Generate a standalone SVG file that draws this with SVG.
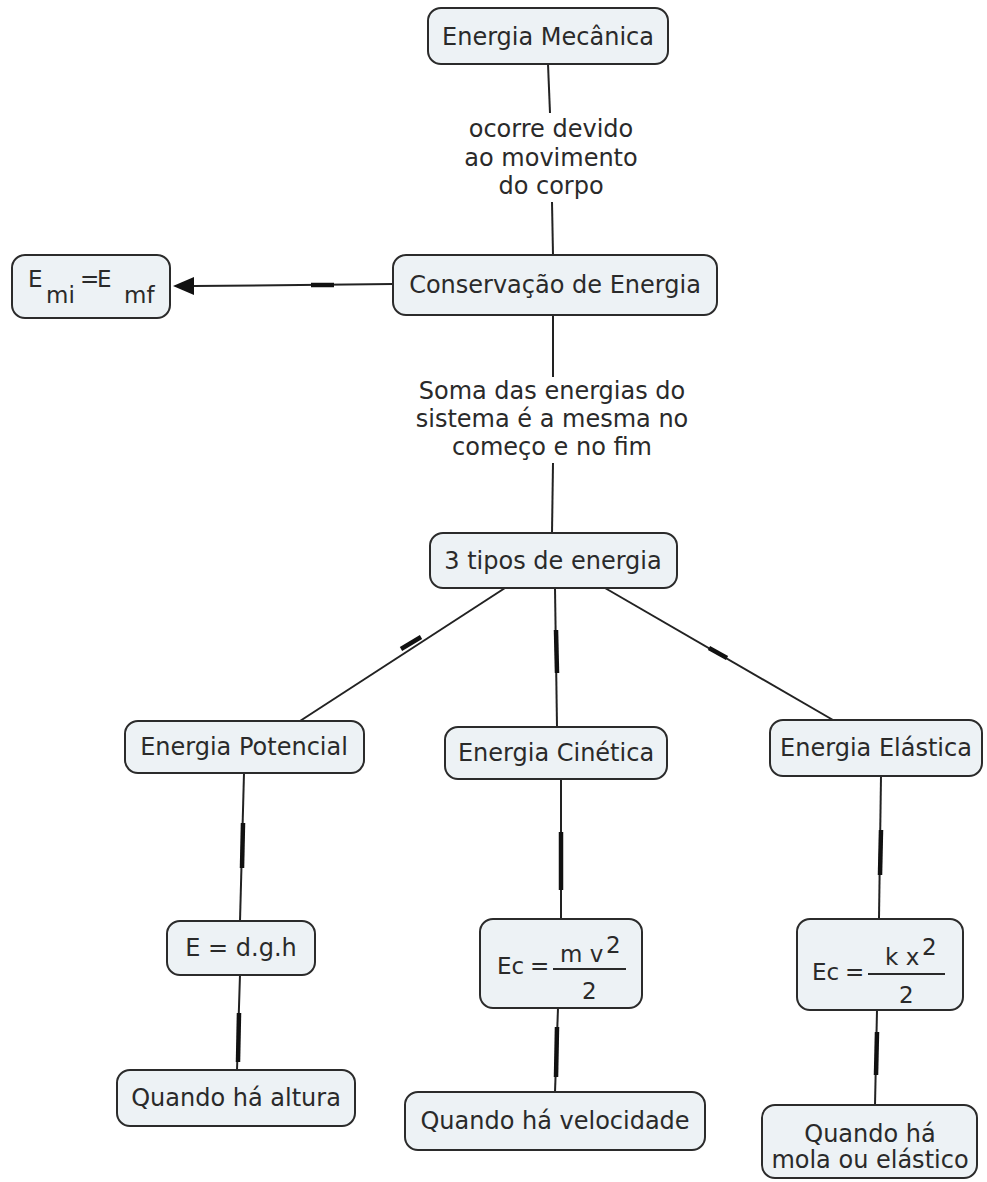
<svg xmlns="http://www.w3.org/2000/svg" width="987" height="1182" viewBox="0 0 987 1182">
  <style>
    .node rect { fill: #edf2f5; stroke: #2b2b2b; stroke-width: 2; }
    text { font-family: "DejaVu Sans", Verdana, sans-serif; font-size: 24px; fill: #2a2a2a; }
    .f { font-size: 23px; }
    .c { text-anchor: middle; }
    .link { stroke: #222; stroke-width: 2; fill: none; }
    .mark { stroke: #111; stroke-width: 4.5; fill: none; }
    .bar { stroke: #2a2a2a; stroke-width: 2; }
  </style>
  <rect width="987" height="1182" fill="#ffffff"/>

  <g id="connectors">
    <!-- Energia Mecânica -> Conservação -->
    <line class="link" x1="548" y1="64" x2="550" y2="113"/>
    <line class="link" x1="552" y1="202" x2="553" y2="255"/>
    <!-- Conservação -> 3 tipos -->
    <line class="link" x1="553" y1="315" x2="553" y2="377"/>
    <line class="link" x1="553" y1="463" x2="552" y2="533"/>
    <!-- Conservação -> Emi = Emf -->
    <line class="link" x1="393" y1="284" x2="194" y2="286"/>
    <path d="M173,286 L194,277 L194,295 Z" fill="#111"/>
    <line class="mark" x1="311" y1="285" x2="334" y2="285"/>
    <!-- 3 tipos -> the three energies -->
    <line class="link" x1="505" y1="588" x2="300" y2="721"/>
    <line class="mark" x1="401" y1="649" x2="421" y2="637"/>
    <line class="link" x1="555" y1="588" x2="557" y2="727"/>
    <line class="mark" x1="556" y1="630" x2="557" y2="673"/>
    <line class="link" x1="605" y1="588" x2="833" y2="720"/>
    <line class="mark" x1="709" y1="648" x2="727" y2="658"/>
    <!-- Potencial column -->
    <line class="link" x1="244" y1="773" x2="240" y2="921"/>
    <line class="mark" x1="243" y1="823" x2="242" y2="868"/>
    <line class="link" x1="240" y1="975" x2="237" y2="1070"/>
    <line class="mark" x1="239" y1="1013" x2="238" y2="1062"/>
    <!-- Cinética column -->
    <line class="link" x1="561" y1="779" x2="561" y2="919"/>
    <line class="mark" x1="561" y1="832" x2="561" y2="890"/>
    <line class="link" x1="558" y1="1008" x2="555" y2="1092"/>
    <line class="mark" x1="557" y1="1027" x2="556" y2="1077"/>
    <!-- Elástica column -->
    <line class="link" x1="881" y1="776" x2="879" y2="918"/>
    <line class="mark" x1="881" y1="830" x2="880" y2="875"/>
    <line class="link" x1="877" y1="1010" x2="875" y2="1105"/>
    <line class="mark" x1="877" y1="1032" x2="876" y2="1075"/>

    <!-- link phrases -->
    <text class="c" x="551" y="137">ocorre devido</text>
    <text class="c" x="551" y="166">ao movimento</text>
    <text class="c" x="551" y="194">do corpo</text>
    <text class="c" x="552" y="399">Soma das energias do</text>
    <text class="c" x="552" y="427">sistema é a mesma no</text>
    <text class="c" x="552" y="455">começo e no fim</text>
  </g>

  <g id="energia-mecanica" class="node">
    <rect x="428" y="8" width="240" height="56" rx="13"/>
    <text class="c" x="548" y="45">Energia Mecânica</text>
  </g>

  <g id="conservacao" class="node">
    <rect x="393" y="255" width="324" height="60" rx="13"/>
    <text class="c" x="555" y="293">Conservação de Energia</text>
  </g>

  <g id="emi-emf" class="node">
    <rect x="12" y="255" width="158" height="63" rx="13"/>
    <text class="f" x="28" y="287">E</text>
    <text class="f" x="46" y="303">mi</text>
    <text class="f" x="80" y="287">=</text>
    <text class="f" x="97" y="287">E</text>
    <text class="f" x="124" y="303">mf</text>
  </g>

  <g id="tres-tipos" class="node">
    <rect x="430" y="533" width="247" height="55" rx="13"/>
    <text class="c" x="553" y="569">3 tipos de energia</text>
  </g>

  <g id="energia-potencial" class="node">
    <rect x="125" y="721" width="239" height="52" rx="13"/>
    <text class="c" x="244" y="755">Energia Potencial</text>
  </g>

  <g id="energia-cinetica" class="node">
    <rect x="445" y="727" width="222" height="52" rx="13"/>
    <text class="c" x="556" y="761">Energia Cinética</text>
  </g>

  <g id="energia-elastica" class="node">
    <rect x="770" y="720" width="212" height="56" rx="13"/>
    <text class="c" x="876" y="756">Energia Elástica</text>
  </g>

  <g id="formula-potencial" class="node">
    <rect x="167" y="921" width="148" height="54" rx="13"/>
    <text class="c" x="241" y="956">E = d.g.h</text>
  </g>

  <g id="formula-cinetica" class="node">
    <rect x="480" y="919" width="162" height="89" rx="13"/>
    <text class="f" x="497" y="974">Ec</text>
    <text class="f" x="530" y="974">=</text>
    <line class="bar" x1="553" y1="969" x2="626" y2="969"/>
    <text class="f" x="560" y="962">m v</text>
    <text class="f" x="606" y="953">2</text>
    <text class="f" x="582" y="999">2</text>
  </g>

  <g id="formula-elastica" class="node">
    <rect x="797" y="919" width="166" height="91" rx="13"/>
    <text class="f" x="812" y="980">Ec</text>
    <text class="f" x="845" y="980">=</text>
    <line class="bar" x1="868" y1="974" x2="945" y2="974"/>
    <text class="f" x="885" y="965">k x</text>
    <text class="f" x="922" y="955">2</text>
    <text class="f" x="899" y="1003">2</text>
  </g>

  <g id="quando-altura" class="node">
    <rect x="117" y="1070" width="238" height="56" rx="13"/>
    <text class="c" x="236" y="1106">Quando há altura</text>
  </g>

  <g id="quando-velocidade" class="node">
    <rect x="405" y="1092" width="300" height="58" rx="13"/>
    <text class="c" x="555" y="1129">Quando há velocidade</text>
  </g>

  <g id="quando-mola" class="node">
    <rect x="762" y="1105" width="215" height="73" rx="13"/>
    <text class="c" x="870" y="1142">Quando há</text>
    <text class="c" x="870" y="1168">mola ou elástico</text>
  </g>
</svg>
